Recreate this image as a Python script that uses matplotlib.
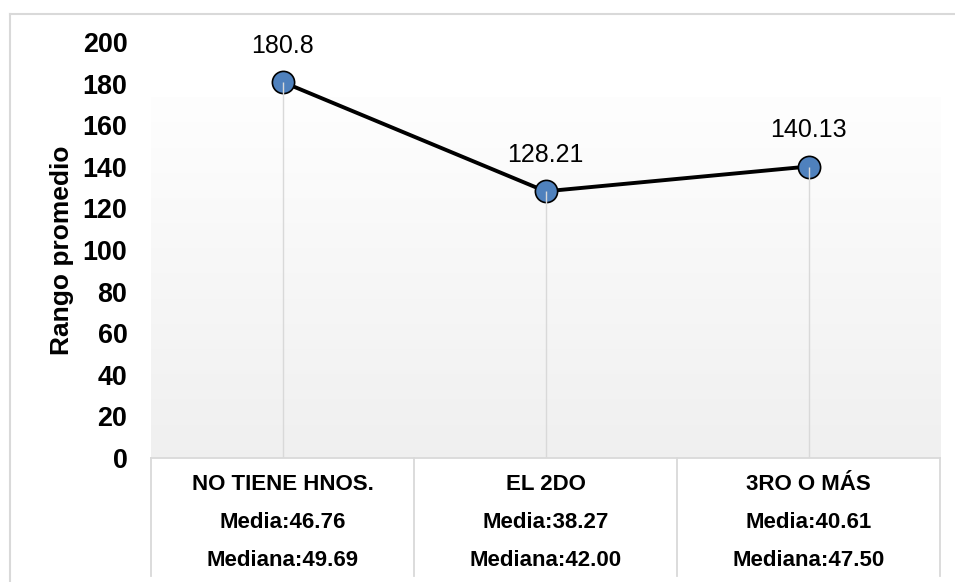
import matplotlib
matplotlib.use("Agg")
import matplotlib.pyplot as plt
import matplotlib.transforms as mtransforms
from matplotlib.lines import Line2D
import numpy as np

plt.rcParams['font.family'] = ['Liberation Sans', 'DejaVu Sans']

categories = ["NO TIENE HNOS.", "EL 2DO", "3RO O MÁS"]
rango_promedio = [180.8, 128.21, 140.13]
value_labels = ["180.8", "128.21", "140.13"]
media = ["46.76", "38.27", "40.61"]
mediana = ["49.69", "42.00", "47.50"]
y_ticks = [0, 20, 40, 60, 80, 100, 120, 140, 160, 180, 200]

W, H = 955, 582
fig = plt.figure(figsize=(W / 100, H / 100), dpi=100)
fig.patch.set_facecolor("white")

def fx(px):
    return px / W

def fy(py):
    return 1 - py / H

ax = fig.add_axes([fx(151), fy(458), fx(940) - fx(151), fy(42) - fy(458)])
ax.set_facecolor("none")
ax.set_xlim(-0.5, len(categories) - 0.5)
ax.set_ylim(0, 200)

# gradient background of the plot area
grad = np.linspace(0, 1, 256).reshape(-1, 1)
top_c = np.array([0.996, 0.996, 0.996])
bot_c = np.array([0.94, 0.94, 0.94])
img = top_c + (bot_c - top_c) * grad
img = img.reshape(256, 1, 3)
ax.imshow(img, aspect="auto", extent=[0, 1, 0, (458 - 97) / 416],
          transform=ax.transAxes, zorder=0, interpolation="bilinear")

x = np.arange(len(categories))
ax.plot(x, rango_promedio, color="black", lw=2.8, zorder=3,
        marker="o", markersize=16, markerfacecolor="#4f81bd",
        markeredgecolor="black", markeredgewidth=1.2)
ax.vlines(x, 0, rango_promedio, colors="#d9d9d9", lw=1.0, zorder=4)

for xi, v, lab in zip(x, rango_promedio, value_labels):
    ax.annotate(lab, (xi, v), xytext=(0, 26), textcoords="offset points",
                ha="center", va="center", fontsize=18, color="black", zorder=5)

ax.set_yticks(y_ticks)
ax.set_yticklabels([str(t) for t in y_ticks], fontsize=19.4, fontweight="bold")
ax.tick_params(axis="y", length=0, pad=17)
ax.set_xticks([])
for s in ax.spines.values():
    s.set_visible(False)

ax.set_ylabel("Rango promedio", fontsize=19, fontweight="bold")
ax.yaxis.set_label_coords((74 - 151) / 789, 0.5)

# data table under the axis
trans = mtransforms.blended_transform_factory(ax.transData, fig.transFigure)
gray = "#d9d9d9"
bounds = np.arange(len(categories) + 1) - 0.5
fig.add_artist(Line2D([bounds[0], bounds[-1]], [fy(458), fy(458)], transform=trans,
                      color=gray, lw=1.3))
for b in bounds:
    fig.add_artist(Line2D([b, b], [fy(458), fy(576)], transform=trans,
                          color=gray, lw=1.3))
for xi, cat, me, md in zip(x, categories, media, mediana):
    fig.text(xi, fy(485), cat, transform=trans, ha="center", va="center",
             fontsize=16, fontweight="bold")
    fig.text(xi, fy(523), "Media:" + me, transform=trans, ha="center", va="center",
             fontsize=16, fontweight="bold")
    fig.text(xi, fy(561), "Mediana:" + md, transform=trans, ha="center", va="center",
             fontsize=16, fontweight="bold")

# outer chart border (cut off at right and bottom)
fig.add_artist(Line2D([fx(9.5), 1.0], [fy(13.5), fy(13.5)], transform=fig.transFigure,
                      color=gray, lw=1.5))
fig.add_artist(Line2D([fx(9.5), fx(9.5)], [fy(13.5), 0.0], transform=fig.transFigure,
                      color=gray, lw=1.5))

fig.savefig("out.png", dpi=100)
